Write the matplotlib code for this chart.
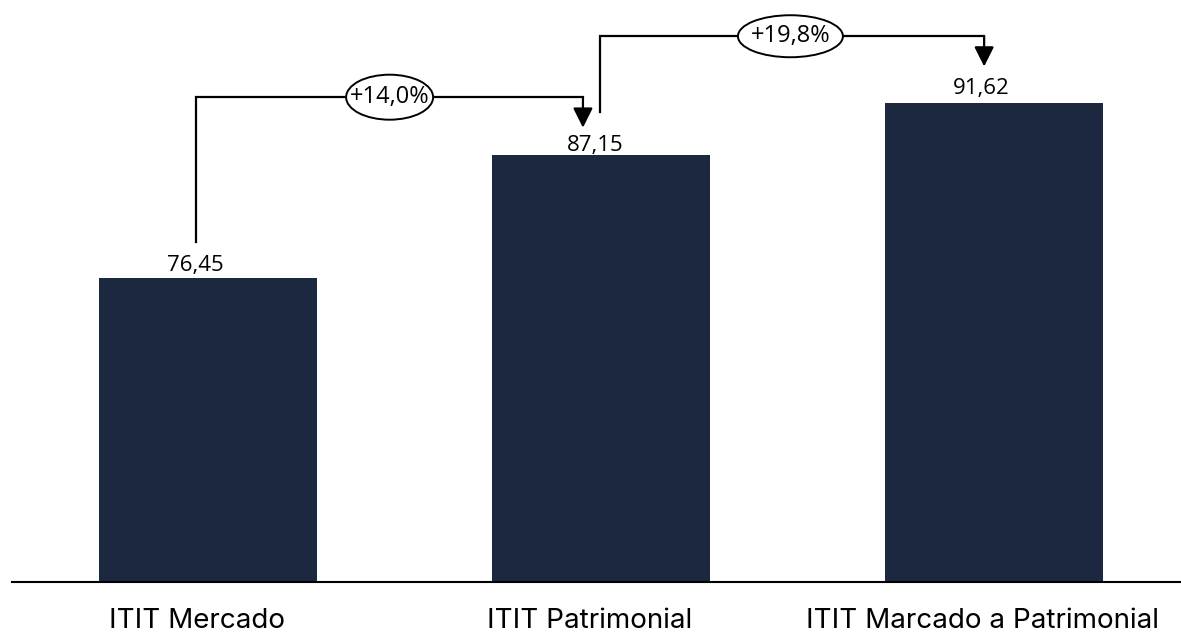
import matplotlib
matplotlib.use('Agg')
import matplotlib.pyplot as plt
import matplotlib.transforms as mtransforms
from matplotlib.patches import FancyArrowPatch, Ellipse

categories = ['ITIT Mercado', 'ITIT Patrimonial', 'ITIT Marcado a Patrimonial']
values = [76.45, 87.15, 91.62]
# comparisons: (from bar, to bar), both against the first bar
links = [(0, 1), (1, 2)]
base_of_change = [0, 0]

BAR_COLOR = '#1b2840'
PX_X = 393.0   # pixels per x unit
PX_Y = 11.5    # pixels per y unit


def fmt(v, nd=2):
    return f'{v:.{nd}f}'.replace('.', ',')


fig = plt.figure(figsize=(11.81, 6.36), dpi=100)
ax = fig.add_axes([12 / 1181, 1 - 582 / 636, 1 - 12 / 1181, 582 / 636])

x = list(range(len(values)))
ax.bar(x, values, width=0.555, color=BAR_COLOR, zorder=2)
ax.set_xlim(-0.499, 2.476)
ax.set_ylim(50, 100.6)

label_dx = [-9, -4, -9]   # points
label_dy = [1, -1, 3]
for xi, v, dx, dy in zip(x, values, label_dx, label_dy):
    ax.annotate(fmt(v), (xi, v), xytext=(dx, dy), textcoords='offset points',
                ha='center', va='bottom', fontsize=16, family='Open Sans', color='black')

# bracket arrows with % change
x_start = [-0.03, -0.003]
x_end = [-0.046, -0.025]
starts = [3.1, 3.7]
tops = [15.7, 10.3]
tips = [2.35, 3.2]
ell_x = [0.462, 1.482]
ell_w = [87, 105]
ell_h = [45, 42]
for i, ((a, b), base) in enumerate(zip(links, base_of_change)):
    xa = a + x_start[i]
    xb = b + x_end[i]
    y0 = values[a] + starts[i]
    yt = values[a] + tops[i]
    ax.plot([xa, xa, xb], [y0, yt, yt], color='black', lw=1.6, zorder=3,
            solid_joinstyle='miter')
    arr = FancyArrowPatch((xb, yt), (xb, values[b] + tips[i]),
                          arrowstyle='-|>,head_length=1.0,head_width=0.5',
                          mutation_scale=12, color='black', lw=1.6, shrinkA=0, shrinkB=0,
                          zorder=3)
    ax.add_patch(arr)
    ax.add_patch(Ellipse((ell_x[i], yt), ell_w[i] / PX_X, ell_h[i] / PX_Y,
                         fc='white', ec='black', lw=1.4, zorder=4))
    pct = (values[b] / values[base] - 1) * 100
    ax.text(ell_x[i], yt, '+' + fmt(pct, 1) + '%', ha='center', va='center',
            fontsize=17, family='Open Sans', zorder=5)

ax.set_xticks(x)
ax.set_xticklabels(categories, fontsize=20, family='Inter')
ax.tick_params(axis='x', length=0, pad=19)
shift = mtransforms.ScaledTranslation(-11 / 100, 0, fig.dpi_scale_trans)
for lbl in ax.get_xticklabels():
    lbl.set_transform(lbl.get_transform() + shift)
ax.set_yticks([])
for s in ['top', 'right', 'left']:
    ax.spines[s].set_visible(False)
ax.spines['bottom'].set_linewidth(1.5)

fig.savefig('out.png', dpi=100)
